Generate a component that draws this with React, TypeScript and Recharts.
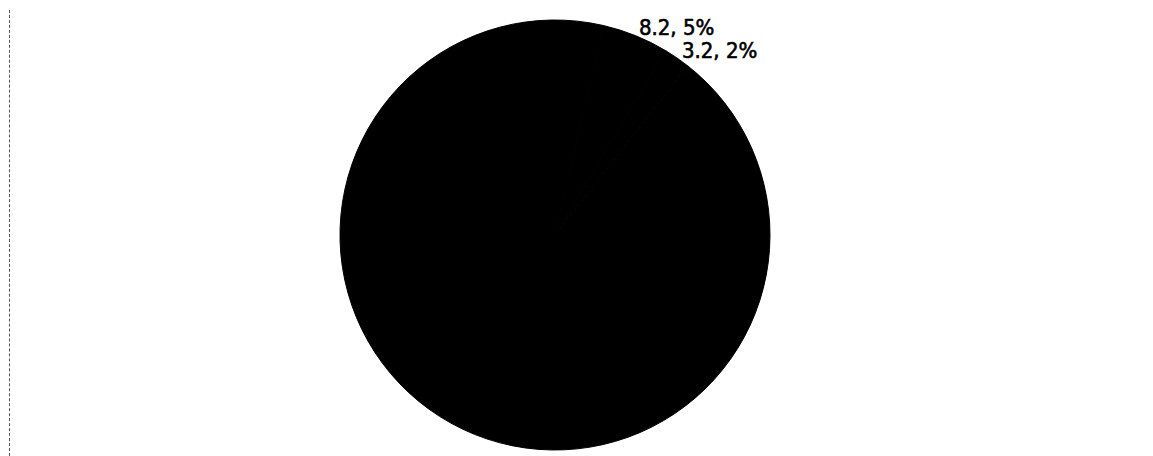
import React from 'react';
import { PieChart, Pie, Cell } from 'recharts';

const sliceNames = ['Segment A', 'Segment B', 'Remainder'];
const sliceValues = [8.2, 3.2, 152.6];

const data = sliceNames.map((name, i) => ({ name, value: sliceValues[i] }));

const RADIAN = Math.PI / 180;

// small slices get an outside "value, percent" tag, the big one stays unlabelled
const renderLabel = (props: any) => {
	const { cx, cy, midAngle, outerRadius, percent, value } = props;
	if (percent >= 0.1) return null;
	const r = outerRadius + 9;
	const x = cx + r * Math.cos(-midAngle * RADIAN);
	const y = cy + r * Math.sin(-midAngle * RADIAN);
	return (
		<text
			x={x}
			y={y}
			fill="#000"
			stroke="#000"
			strokeWidth={0.6}
			textAnchor="start"
			dominantBaseline="central"
			fontFamily="'DejaVu Sans Condensed', 'Liberation Sans', sans-serif"
			fontSize={22}
		>
			{`${value}, ${Math.round(percent * 100)}%`}
		</text>
	);
};

const App: React.FC = () => {
	return (
		<div style={{ position: 'relative', width: 1153, height: 456, background: '#fff' }}>
			<style>{'body { margin: 0; }'}</style>
			<div
				style={{
					position: 'absolute',
					left: 9,
					top: 10,
					bottom: 0,
					borderLeft: '1px dashed #555',
				}}
			/>
			<PieChart width={1153} height={456}>
				<Pie
					data={data}
					dataKey="value"
					nameKey="name"
					cx={550}
					cy={230}
					outerRadius={215}
					startAngle={77}
					endAngle={-283}
					stroke="#000"
					label={renderLabel}
					labelLine={false}
					isAnimationActive={false}
				>
					{data.map((entry, index) => (
						<Cell key={`cell-${index}`} fill="#000" />
					))}
				</Pie>
			</PieChart>
		</div>
	);
};

export default App;
